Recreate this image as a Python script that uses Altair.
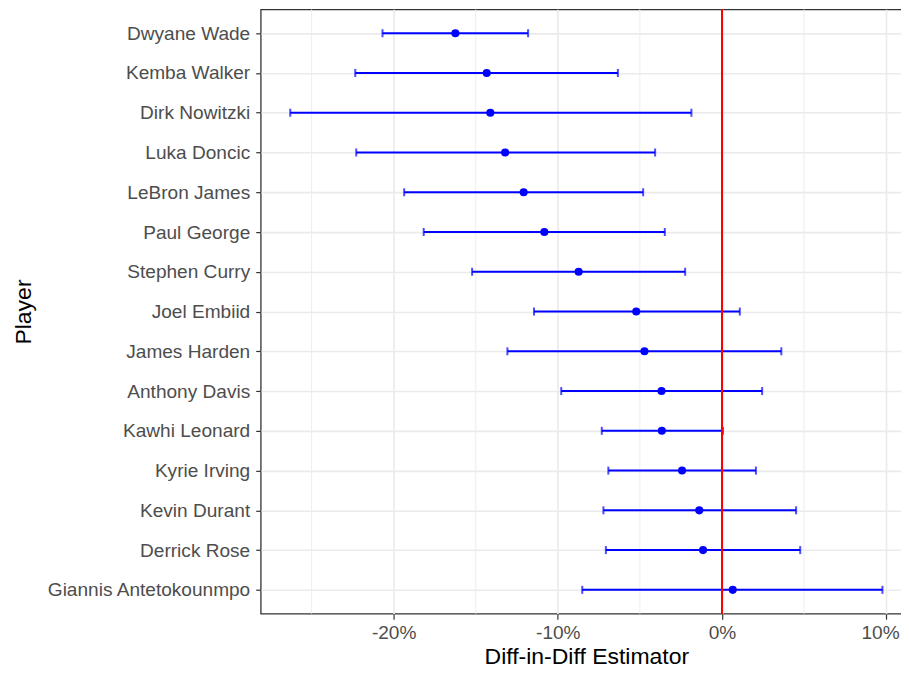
import altair as alt
import pandas as pd

players = ["Dwyane Wade", "Kemba Walker", "Dirk Nowitzki", "Luka Doncic", "LeBron James",
           "Paul George", "Stephen Curry", "Joel Embiid", "James Harden", "Anthony Davis",
           "Kawhi Leonard", "Kyrie Irving", "Kevin Durant", "Derrick Rose", "Giannis Antetokounmpo"]
estimate = [-16.24, -14.33, -14.11, -13.21, -12.08, -10.82, -8.73, -5.22, -4.72, -3.68,
            -3.66, -2.43, -1.38, -1.15, 0.66]
lower = [-20.68, -22.34, -26.30, -22.28, -19.36, -18.17, -15.22, -11.45, -13.07, -9.79,
         -7.32, -6.92, -7.22, -7.07, -8.51]
upper = [-11.81, -6.34, -1.86, -4.07, -4.80, -3.48, -2.24, 1.09, 3.62, 2.45,
         0.06, 2.07, 4.52, 4.77, 9.78]
major_breaks = [-20, -10, 0, 10]
minor_breaks = [-25, -15, -5, 5]

df = pd.DataFrame({"Player": players, "est": estimate, "lo": lower, "hi": upper})
minor_df = pd.DataFrame({"m": minor_breaks})

W = 652
H = 605
FONT = "Liberation Sans"

xscale = alt.Scale(domain=[-28.1, 11.58], nice=False, zero=False)
yscale = alt.Scale(type="point", padding=0.6, domain=players)

xaxis = alt.Axis(values=major_breaks, labelExpr="datum.value + '%'", title="Diff-in-Diff Estimator",
                 grid=True, gridColor="#EBEBEB", gridWidth=1.6, domain=False,
                 tickColor="#333333", tickSize=5.5, tickWidth=1.2,
                 labelColor="#4D4D4D", labelFontSize=19.1, labelPadding=4, labelFont=FONT,
                 labelOffset={"condition": {"test": "datum.value == 10", "value": -6}, "value": 0},
                 titleColor="#000000", titleFontSize=23, titleFont=FONT, titleFontWeight="normal",
                 titlePadding=3)
yaxis = alt.Axis(title="Player", grid=True, gridColor="#EBEBEB", gridWidth=1.6, domain=False,
                 tickColor="#333333", tickSize=5, tickWidth=1.2,
                 labelColor="#4D4D4D", labelFontSize=19.1, labelPadding=6, labelFont=FONT,
                 labelLimit=400,
                 titleColor="#000000", titleFontSize=23, titleFont=FONT, titleFontWeight="normal",
                 titlePadding=25)

base = alt.Chart(df)

minor = alt.Chart(minor_df).mark_rule(color="#EBEBEB", strokeWidth=0.9).encode(
    x=alt.X("m:Q", scale=xscale, axis=xaxis)
)

bars = base.mark_rule(color="#0000FF", strokeWidth=2).encode(
    x=alt.X("lo:Q", scale=xscale, axis=xaxis),
    x2="hi:Q",
    y=alt.Y("Player:N", scale=yscale, axis=yaxis, sort=players),
)
cap_lo = base.mark_tick(color="#0000FF", thickness=2, size=8, orient="vertical").encode(
    x=alt.X("lo:Q", scale=xscale),
    y=alt.Y("Player:N", scale=yscale, sort=players),
)
cap_hi = base.mark_tick(color="#0000FF", thickness=2, size=8, orient="vertical").encode(
    x=alt.X("hi:Q", scale=xscale),
    y=alt.Y("Player:N", scale=yscale, sort=players),
)
points = base.mark_circle(color="#0000FF", size=66, opacity=1).encode(
    x=alt.X("est:Q", scale=xscale),
    y=alt.Y("Player:N", scale=yscale, sort=players),
)
vline = alt.Chart(df).mark_rule(color="#FF0000", strokeWidth=1.8).encode(
    x=alt.datum(0, scale=xscale)
)

chart = alt.layer(minor, bars, cap_lo, cap_hi, points, vline).properties(
    width=W, height=H,
    padding={"left": 5, "top": 0, "right": -11, "bottom": 0},
).configure(
    font=FONT, background="white",
    view=alt.ViewConfig(stroke="#333333", strokeWidth=1.3),
)

chart.save("out.html", embed_options={"renderer": "svg", "actions": False})
